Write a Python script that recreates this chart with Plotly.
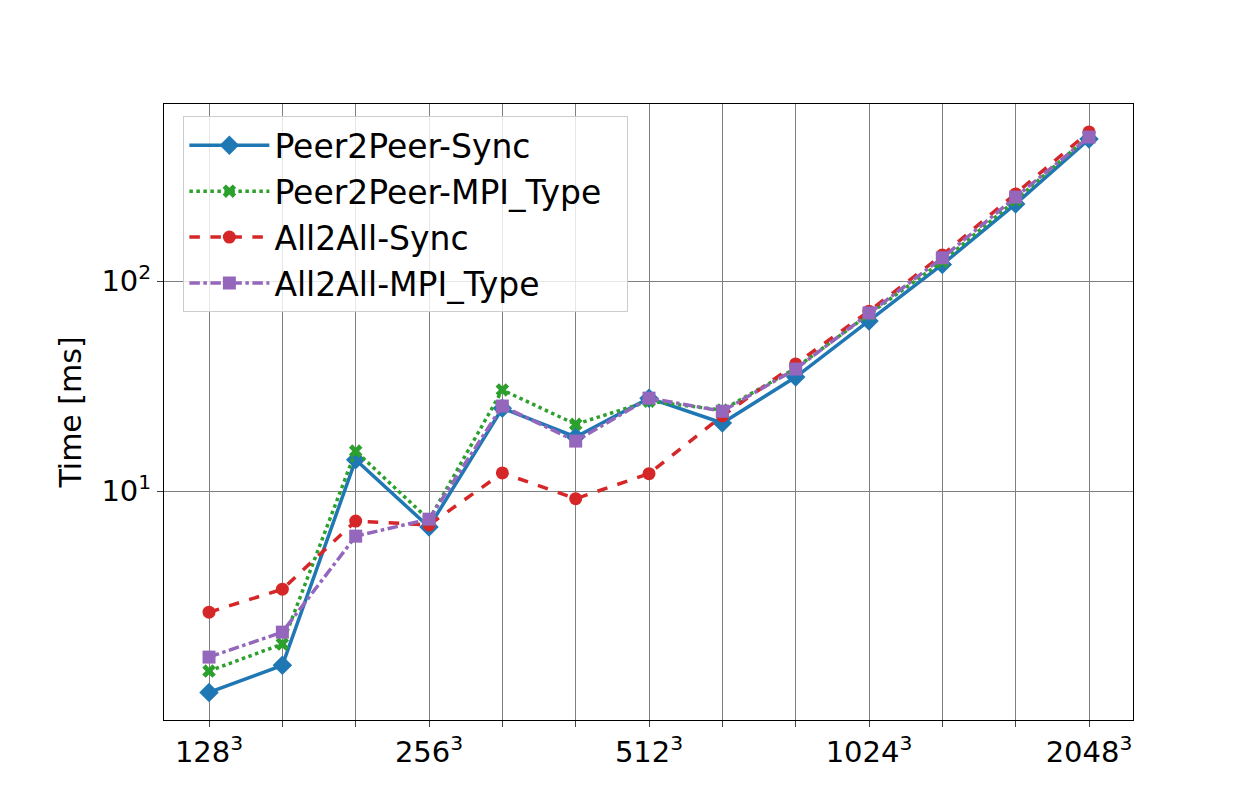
import plotly.graph_objects as go

# labels only on every other size, matching the reference
tick_text = ["128<sup>3</sup>", "", "", "256<sup>3</sup>", "", "", "512<sup>3</sup>", "", "", "1024<sup>3</sup>", "", "", "2048<sup>3</sup>"]
xpos = list(range(13))

p2p_sync = [1.10, 1.48, 14.1, 6.74, 24.8, 18.1, 27.7, 21.1, 34.9, 64.5, 120, 233, 474]
p2p_type = [1.39, 1.87, 15.5, 7.3, 30.3, 20.8, 26.8, 24.3, 38.5, 69.6, 124, 243, 490]
a2a_sync = [2.65, 3.41, 7.2, 6.9, 12.2, 9.2, 12.1, 22.8, 40.3, 71.9, 133, 260, 513]
a2a_type = [1.62, 2.13, 6.1, 7.35, 25.4, 17.3, 27.7, 24.0, 38.1, 70.5, 129, 251, 485]

series = [
    ("Peer2Peer-Sync", p2p_sync, "#1f77b4", "solid", "diamond", 15),
    ("Peer2Peer-MPI_Type", p2p_type, "#2ca02c", "dot", "x", 12),
    ("All2All-Sync", a2a_sync, "#d62728", "dash", "circle", 13),
    ("All2All-MPI_Type", a2a_type, "#9467bd", "dashdot", "square", 13),
]

fig = go.Figure()
for name, ys, col, dash, sym, ms in series:
    fig.add_trace(go.Scatter(x=xpos, y=ys, name=name + "  ", mode="lines+markers",
                             line=dict(color=col, width=3.5, dash=dash),
                             marker=dict(symbol=sym, size=ms, color=col)))

fig.update_layout(
    width=1250, height=800,
    margin=dict(l=156, r=125, t=96, b=88, pad=0, autoexpand=False),
    plot_bgcolor="white", paper_bgcolor="white",
    font=dict(family="DejaVu Sans", size=29, color="black"),
    legend=dict(x=0.02, y=0.98, xanchor="left", yanchor="top",
                bordercolor="#cccccc", borderwidth=1, bgcolor="rgba(255,255,255,0.8)",
                font=dict(size=33), itemwidth=80, tracegroupgap=12),
)
fig.update_xaxes(range=[-0.614, 12.6], tickvals=xpos, ticktext=tick_text, automargin=False,
                 showgrid=True, gridcolor="gray", gridwidth=1,
                 showline=True, linecolor="black", mirror=True,
                 ticks="outside", ticklen=6, zeroline=False)
fig.update_yaxes(type="log", range=[-0.09, 2.843], tickvals=[10, 100], automargin=False,
                 ticktext=["10<sup>1</sup>", "10<sup>2</sup>"],
                 title=dict(text="Time [ms]", font=dict(size=30), standoff=10),
                 showgrid=True, gridcolor="gray", gridwidth=1,
                 showline=True, linecolor="black", mirror=True,
                 ticks="outside", ticklen=6, zeroline=False)

fig.write_html("out.html")
